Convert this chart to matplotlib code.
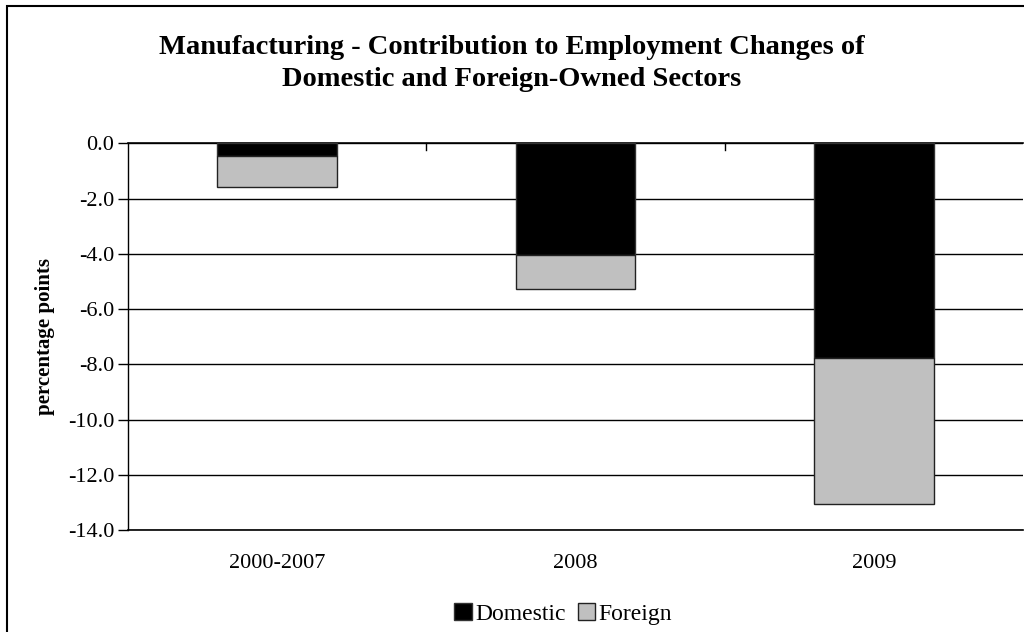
import matplotlib
matplotlib.use("Agg")
import matplotlib.pyplot as plt
from matplotlib.patches import Rectangle, Patch
import numpy as np

categories = ["2000-2007", "2008", "2009"]
domestic = [-0.47, -4.04, -7.78]
foreign = [-1.13, -1.24, -5.27]
yticks = [0, -2, -4, -6, -8, -10, -12, -14]

plt.rcParams['font.family'] = ['Liberation Serif', 'DejaVu Serif']

fig = plt.figure(figsize=(10.24, 6.32), dpi=100)
ax = fig.add_axes([128/1024, 1-530/632, (1023-128)/1024, (530-143.3)/632])

x = np.arange(len(categories))
w = 0.40
ax.bar(x, domestic, w, color='black', edgecolor='#333333', linewidth=1, label='Domestic', zorder=3)
ax.bar(x, foreign, w, bottom=domestic, color='#c0c0c0', edgecolor='#222222', linewidth=1, label='Foreign', zorder=3)

ax.set_xlim(-0.5, len(categories) - 0.5)
ax.set_ylim(-14, 0)
ax.set_yticks(yticks)
ax.set_yticklabels([f"{v:.1f}" for v in yticks], fontsize=16)
ax.yaxis.grid(True, color='black', linewidth=1, zorder=0)
ax.set_axisbelow(True)

ax.set_xticks([])
for b in np.arange(0.5, len(categories) - 0.5, 1.0):
    ax.plot([b, b], [0, -0.25], color='black', linewidth=1, zorder=4, clip_on=False)
for i, c in enumerate(categories):
    ax.text(i, -15.2, c, ha='center', va='center', fontsize=16)

ax.spines['right'].set_visible(False)
ax.spines['bottom'].set_color('black')
ax.spines['bottom'].set_linewidth(1.2)
ax.spines['left'].set_color('black')
ax.spines['top'].set_color('black')
ax.spines['left'].set_linewidth(1)
ax.spines['top'].set_linewidth(1.2)
ax.tick_params(axis='y', direction='out', length=7, width=1, pad=3)

ax.set_ylabel("percentage points", fontsize=15, fontweight='bold')
ax.yaxis.set_label_coords(-0.082, 0.5)

fig.text(0.5, 1-47/632, "Manufacturing - Contribution to Employment Changes of",
         ha='center', va='center', fontsize=20.5, fontweight='bold')
fig.text(0.5, 1-79/632, "Domestic and Foreign-Owned Sectors",
         ha='center', va='center', fontsize=20.5, fontweight='bold')

handles = [Patch(facecolor='black', edgecolor='#333333', label='Domestic'),
           Patch(facecolor='#c0c0c0', edgecolor='#222222', label='Foreign')]
fig.legend(handles=handles, loc='center', bbox_to_anchor=(0.55, 1-614/632), ncol=2,
           frameon=False, fontsize=17, handlelength=0.75, handleheight=0.75,
           handletextpad=0.15, columnspacing=0.5)

fig.add_artist(Rectangle((7/1024, -0.05), 1.1, 1-6/632+0.05, transform=fig.transFigure,
                         fill=False, edgecolor='black', linewidth=1.5))

fig.savefig("out.png", dpi=100)
